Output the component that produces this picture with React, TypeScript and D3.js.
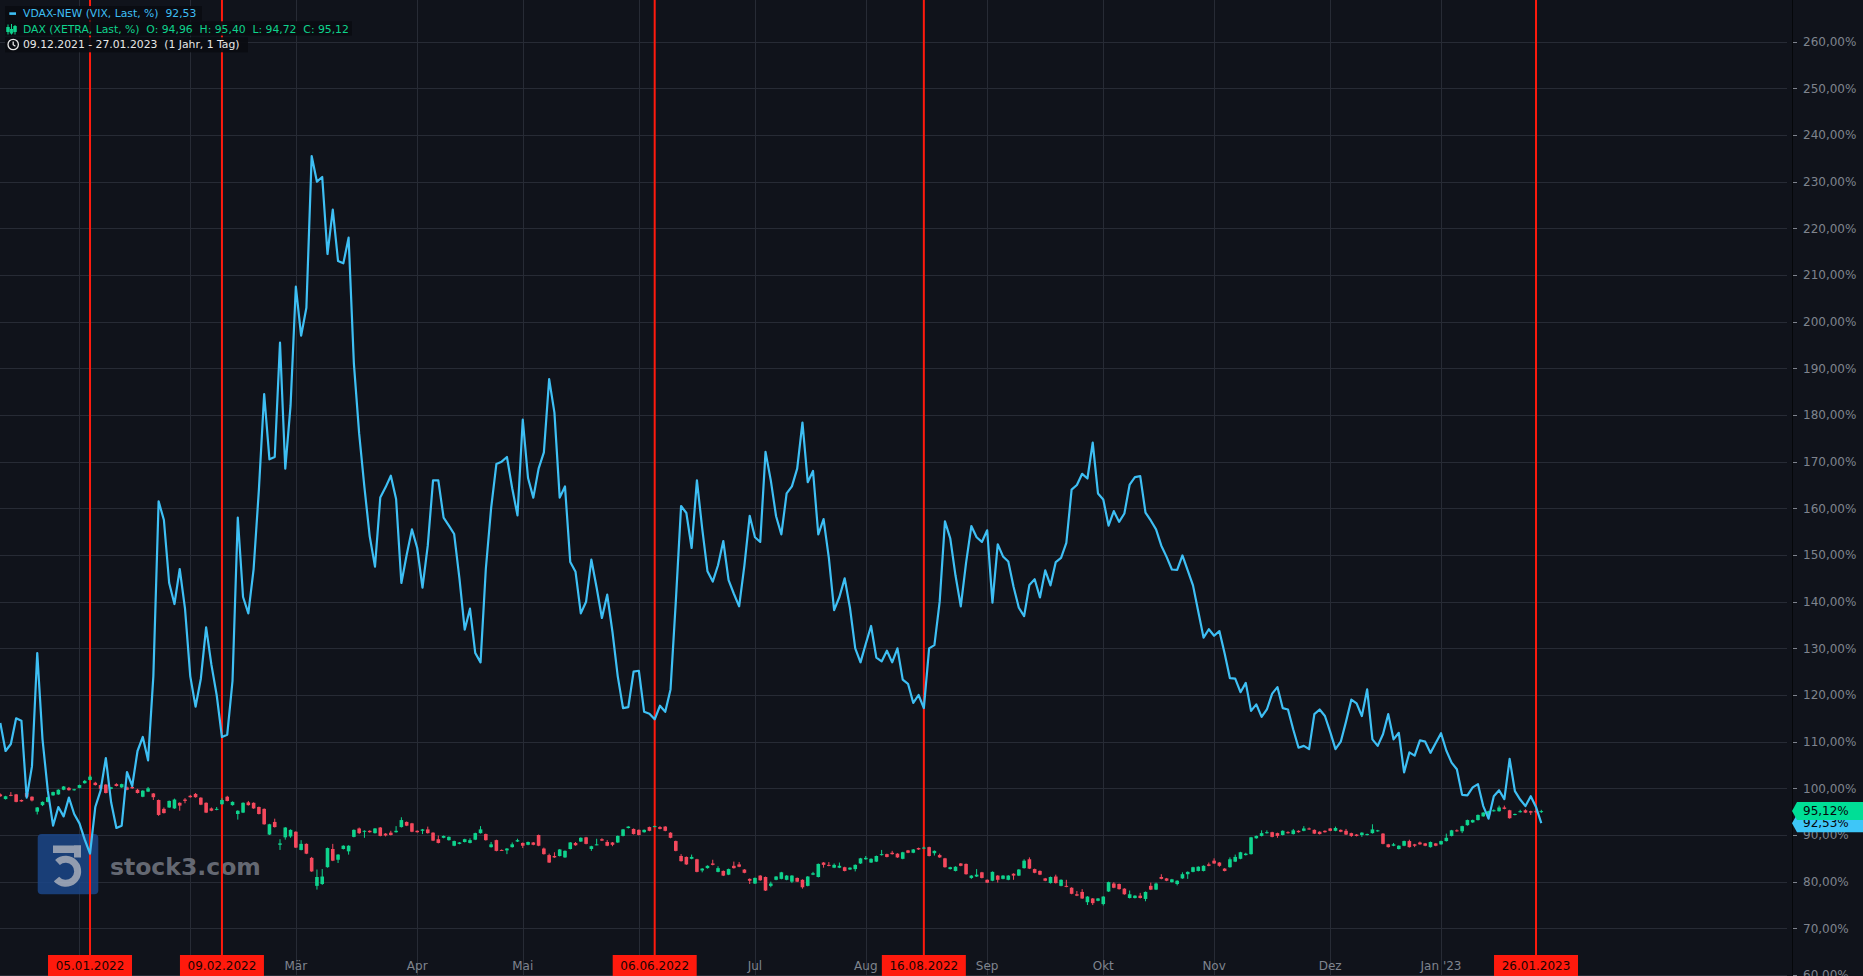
import React from 'react';
import * as d3 from 'd3';

const W = 1863;
const H = 976;
const BG = '#10131b';
const GRID = '#272b35';
const AXIS_TXT = '#7f848e';
const BLUE = '#3ebff4';
const GREEN = '#0fd38d';
const RED = '#f5495d';
const MARK = '#ff1a0d';
const FONT = 'DejaVu Sans, Verdana, sans-serif';

// VDAX-NEW normalised (%), one value per trading day 09.12.2021 .. 27.01.2023
const vdax: number[] = [
  114, 108, 109.5, 115, 114.5, 98, 104.7, 129, 110.5, 99.5,
  92, 96, 94, 98, 94.5, 92.5, 89, 86, 96, 99.5,
  106.5, 97, 91.5, 92, 103.5, 100.5, 108, 111, 106, 124,
  161.5, 157.5, 144, 139.5, 147, 138.5, 124, 117.5, 123.5, 134.5,
  126.5, 120, 111, 111.5, 123, 158, 141, 137.5, 147, 164,
  184.5, 170.5, 171, 195.5, 168.5, 182, 207.5, 197, 203, 235.5,
  230, 231, 214.5, 224, 213, 212.5, 218, 191, 176, 164.5,
  154, 147.5, 162.3, 164.5, 167, 162, 144, 150, 155.5, 151.5,
  143, 152, 166, 166, 158, 156.3, 154.5, 145, 134, 138.5,
  129, 127, 147, 160, 169.5, 170, 171, 164.3, 158.5, 179,
  166.5, 162.3, 168.5, 172, 187.7, 180.5, 162.3, 164.7, 148.5, 146.4,
  137.5, 140, 149, 143, 136.5, 141.5, 133.5, 124, 117.2, 117.4,
  125, 125.2, 116.4, 116, 114.8, 117.7, 116.4, 121.2, 140, 160.5,
  159, 151.5, 166, 155.7, 146.5, 144.3, 147.8, 153, 144.6, 141.7,
  139, 147.8, 158.4, 153.8, 152.8, 172.1, 166, 158.3, 154.4, 163.2,
  164.7, 168.5, 178.4, 165.6, 168, 154.4, 157.7, 149.4, 138.2, 141,
  145, 138.7, 130, 127, 131, 134.8, 128, 127.2, 129.5, 127,
  130, 123.3, 122.4, 118.3, 120, 117.2, 130, 130.7, 140, 157.2,
  153.6, 145.6, 139, 148.3, 156.2, 153.8, 152.8, 155.3, 139.8, 152.3,
  149.7, 148.6, 143.2, 138.7, 136.9, 143.6, 144.8, 140.9, 146.7, 143.5,
  148.5, 149.4, 152.6, 164, 165, 167.4, 166.4, 174.1, 163.2, 161.9,
  156.3, 159.4, 157.1, 158.9, 165.1, 166.7, 166.9, 159.1, 157.4, 155.5,
  152, 149.6, 146.9, 146.8, 149.9, 146.7, 143.5, 137.9, 132.3, 134.1,
  132.7, 133.7, 128.9, 123.6, 123.5, 120.6, 122.6, 116.6, 118, 115.3,
  116.9, 120.3, 121.7, 117.2, 116.9, 112.6, 108.7, 109.1, 108.4, 115.9,
  116.9, 115.5, 112.1, 108.4, 110, 114.3, 119, 118.2, 115.5, 121.2,
  110.5, 109.1, 111.6, 115.9, 110.5, 111.9, 103.4, 107.7, 107, 110.3,
  110, 107.6, 109.7, 111.8, 108.1, 105.5, 104.1, 98.6, 98.5, 100.2,
  100.9, 96.2, 93.5, 98.3, 99.6, 97.7, 106.3, 99.4, 97.6, 96.2,
  98.3, 96, 92.53,
];

// DAX normalised (%), [open, high, low, close] per trading day
const daxOHLC: number[][] = [
  [98.7,98.9,98.2,98.3],[97.7,98.4,97.6,98.3],[98.6,99.2,98.3,98.5],[98.7,98.8,97.0,97.1],[97.5,97.6,97.1,97.2],
  [99.0,99.1,98.1,98.2],[98.2,98.3,97.2,97.4],[95.0,96.0,94.4,95.9],[96.4,97.2,96.2,97.1],[97.1,98.2,97.0,98.1],
  [98.5,99.3,98.4,99.2],[98.7,99.8,98.6,99.7],[99.7,100.5,99.6,100.4],[100.1,100.3,99.5,99.6],[99.6,99.9,99.5,99.8],
  [100.1,100.8,100.0,100.7],[101.1,101.8,101.0,101.6],[101.8,102.9,101.7,102.5],[101.2,101.4,100.6,100.7],[100.7,100.8,99.8,99.9],
  [100.8,100.9,98.9,99.0],[99.9,100.3,99.8,100.2],[100.9,101.1,100.4,100.5],[100.2,101.0,100.1,100.9],[100.2,100.4,99.6,99.7],
  [100.3,100.6,99.9,100.0],[99.7,99.9,98.9,99.0],[98.2,99.6,98.1,99.5],[99.3,100.3,99.2,100.0],[98.9,99.0,97.5,98.1],
  [97.5,97.6,94.1,94.3],[95.6,95.9,94.6,94.7],[95.9,97.4,95.8,97.3],[95.7,97.8,95.6,97.6],[96.9,97.0,95.2,96.3],
  [97.6,97.9,96.8,97.3],[98.4,98.6,98.0,98.1],[98.8,99.0,98.0,98.1],[98.0,98.1,96.4,96.5],[96.9,97.0,94.7,94.8],
  [95.7,95.9,95.1,95.2],[95.5,96.0,95.3,95.6],[96.6,97.9,96.5,97.5],[98.2,98.4,97.2,97.3],[96.4,97.2,96.3,97.1],
  [94.5,95.3,93.3,95.2],[94.8,97.0,94.7,96.9],[97.0,97.3,96.3,96.4],[96.9,97.0,95.6,95.7],[96.0,96.1,94.4,94.5],
  [95.6,95.7,92.2,92.3],[90.1,92.4,90.0,92.3],[92.8,93.5,91.6,91.7],[87.9,89.1,86.8,88.2],[89.5,91.7,89.0,91.6],
  [89.7,91.2,89.4,91.1],[90.7,90.8,87.2,87.3],[86.8,88.9,86.7,88.1],[88.1,88.2,85.9,86.0],[85.1,85.3,82.1,82.2],
  [79.1,82.6,78.3,81.0],[79.5,82.7,79.3,81.1],[83.1,87.3,83.0,87.2],[87.0,88.1,84.4,84.5],[84.7,85.9,84.0,85.8],
  [87.0,87.8,86.9,87.7],[86.5,87.8,85.8,87.7],[89.6,91.2,89.5,91.1],[91.4,91.6,90.2,90.4],[90.7,91.0,89.4,90.9],
  [90.9,91.0,90.5,90.6],[90.4,91.5,90.3,91.4],[91.6,91.7,89.7,89.8],[90.3,90.4,89.7,89.9],[90.5,90.9,89.9,90.0],
  [90.6,91.9,90.5,90.9],[91.7,93.8,91.6,93.2],[92.8,92.9,91.9,92.0],[92.5,92.6,90.6,90.7],[90.9,91.0,90.5,90.6],
  [90.9,91.3,90.2,91.2],[91.2,91.8,90.3,90.4],[90.5,90.6,88.7,88.8],[89.1,89.9,88.2,88.3],[89.4,89.9,89.3,89.8],
  [88.9,89.7,88.8,89.6],[87.7,88.8,87.6,88.7],[88.1,88.5,88.0,88.4],[88.5,89.2,88.4,89.1],[88.3,89.3,88.2,88.9],
  [89.0,90.5,88.9,90.4],[90.4,91.9,90.3,91.2],[90.2,90.3,88.8,88.9],[87.4,88.5,87.3,88.0],[88.9,89.0,86.5,86.6],
  [86.8,86.9,86.6,86.7],[86.7,87.2,85.9,87.1],[87.4,88.4,87.3,88.0],[88.6,89.2,88.5,88.9],[88.3,88.4,87.2,87.7],
  [87.9,88.6,87.8,88.5],[88.4,88.5,87.8,87.9],[90.0,90.1,87.6,87.7],[87.1,87.3,85.8,85.9],[85.7,86.0,84.0,84.1],
  [85.5,86.3,85.1,85.2],[85.5,87.0,85.4,86.9],[85.2,86.7,85.1,86.6],[87.0,88.5,86.9,88.4],[88.3,88.5,87.7,87.8],
  [88.6,89.5,88.5,89.4],[89.5,89.6,88.0,88.1],[87.0,87.7,86.6,87.6],[87.9,89.2,87.8,88.0],[89.1,89.3,88.7,88.8],
  [88.5,88.9,87.6,87.7],[88.4,88.5,87.6,87.9],[88.4,89.9,88.3,89.8],[89.8,91.3,89.7,91.2],[91.5,91.9,91.4,91.8],
  [91.3,91.4,90.1,90.2],[91.1,91.2,89.9,90.0],[90.6,91.2,90.5,91.1],[91.7,91.8,90.8,90.9],[91.8,92.0,91.7,91.9],
  [91.7,91.9,91.2,91.3],[91.8,91.9,90.8,90.9],[90.5,90.6,89.3,89.4],[88.7,88.8,86.5,86.6],[85.5,85.9,84.3,84.4],
  [85.3,85.4,83.6,83.7],[84.9,85.8,84.8,85.3],[84.8,84.9,82.0,82.1],[82.4,82.9,82.0,82.8],[82.9,83.5,82.8,83.4],
  [83.9,84.7,83.5,83.6],[82.1,83.3,82.0,82.9],[82.3,82.4,81.2,81.3],[81.5,82.8,81.4,82.7],[83.4,84.3,82.8,82.9],
  [83.7,84.2,83.1,83.2],[82.6,82.7,81.8,81.9],[80.6,80.7,79.5,80.2],[79.6,80.9,79.5,80.8],[81.3,81.4,80.2,80.3],
  [81.0,81.1,78.0,78.1],[79.1,80.0,78.8,79.6],[80.4,81.2,80.3,81.1],[80.6,82.1,80.5,82.0],[80.4,81.4,80.3,81.3],
  [80.0,81.4,79.7,81.3],[80.8,80.9,79.9,80.0],[80.4,80.5,78.5,78.8],[79.1,81.2,79.0,81.1],[81.5,82.1,81.4,81.8],
  [81.0,83.9,80.9,83.8],[84.1,84.2,83.0,83.6],[83.6,84.2,83.3,83.4],[83.0,83.9,82.9,83.6],[83.0,84.1,82.9,83.4],
  [83.1,83.2,82.2,82.3],[82.6,83.1,82.5,83.0],[82.7,83.7,82.2,83.6],[83.9,85.1,83.8,85.0],[84.8,85.5,84.7,85.1],
  [84.1,85.0,84.0,84.9],[84.3,85.6,84.2,85.5],[85.7,86.8,85.6,85.9],[85.9,86.0,85.2,85.3],[86.2,86.6,85.8,85.9],
  [86.0,86.1,85.1,85.2],[84.9,86.4,84.8,86.3],[86.7,86.8,86.1,86.2],[86.2,87.0,86.1,86.9],[87.2,87.3,86.8,86.9],
  [87.2,87.5,87.1,87.3],[87.4,87.5,85.4,85.5],[86.1,86.7,85.6,86.6],[85.7,86.0,85.1,85.2],[85.0,85.1,83.0,83.1],
  [82.7,83.2,82.6,83.1],[82.3,83.3,82.2,83.2],[83.9,84.0,83.3,83.4],[83.8,83.9,81.5,81.6],[80.8,81.4,80.6,81.3],
  [81.1,82.7,81.0,81.5],[82.0,82.1,80.7,80.8],[80.4,80.5,79.7,79.8],[80.2,82.2,80.1,82.1],[81.3,81.4,79.8,80.4],
  [80.6,81.4,80.5,81.3],[80.4,81.4,80.3,81.3],[81.7,81.8,80.4,81.3],[81.3,82.7,81.2,82.6],[82.9,84.8,82.8,84.5],
  [84.8,85.2,82.7,82.8],[82.7,82.8,81.8,81.9],[82.3,82.4,81.4,81.5],[80.7,80.8,80.1,80.2],[79.7,81.1,79.6,81.0],
  [81.1,81.5,79.6,79.7],[79.1,80.5,79.0,80.4],[79.1,80.4,78.8,78.9],[78.7,78.8,77.3,77.4],[77.3,78.0,76.9,77.0],
  [77.8,78.4,76.3,76.4],[75.6,76.9,75.0,76.8],[76.4,76.5,75.0,75.4],[75.9,76.5,75.8,76.4],[75.2,76.9,74.9,76.8],
  [77.9,80.0,77.8,79.9],[79.6,79.9,78.6,78.7],[79.5,79.6,78.3,78.4],[78.5,78.6,77.2,77.3],[76.5,78.1,76.4,77.3],
  [76.5,77.1,76.4,77.0],[77.0,77.6,76.4,76.5],[76.3,77.9,75.8,77.8],[79.1,79.8,78.2,78.3],[78.3,79.8,78.2,79.6],
  [81.0,81.6,80.5,80.6],[80.7,80.8,80.1,80.2],[79.9,80.6,79.8,80.5],[79.5,80.3,79.2,80.2],[80.7,82.0,80.6,81.6],
  [81.6,82.2,80.6,82.1],[82.1,83.2,82.0,83.1],[82.3,83.3,82.2,83.2],[82.3,83.5,82.2,83.4],[83.7,84.1,83.3,83.4],
  [84.5,85.0,83.8,83.9],[84.1,84.2,83.2,83.4],[82.8,82.9,82.2,82.3],[83.1,85.2,83.0,84.8],[84.3,85.8,84.2,85.3],
  [84.9,86.4,84.8,86.3],[85.7,86.2,85.6,86.0],[85.9,89.6,85.8,89.5],[89.3,89.9,89.2,89.8],[89.8,91.0,89.7,90.4],
  [90.4,91.0,90.3,90.6],[90.6,90.7,89.5,89.6],[90.4,90.5,89.4,89.8],[90.0,91.0,89.9,90.9],[90.6,90.8,90.3,90.4],
  [90.2,91.3,90.1,91.0],[90.9,91.0,90.5,90.6],[90.9,91.9,90.8,91.4],[91.4,91.6,91.1,91.2],[91.1,91.2,90.2,90.3],
  [90.7,90.8,90.1,90.2],[90.9,91.0,90.5,90.6],[91.4,91.5,90.8,90.9],[90.9,91.8,90.8,91.5],[91.1,91.2,90.6,90.7],
  [90.9,91.3,90.0,90.1],[90.4,90.5,89.6,89.8],[90.1,90.2,89.7,89.8],[90.0,90.6,89.6,90.5],[90.0,90.3,89.9,90.2],
  [90.4,92.3,90.3,91.2],[90.8,91.1,90.7,91.0],[90.3,90.4,88.0,88.1],[88.0,88.1,87.3,87.4],[87.7,88.3,87.6,88.0],
  [87.0,87.8,86.9,87.7],[87.7,88.8,87.6,88.7],[88.7,89.0,87.3,87.4],[88.0,88.1,87.4,87.7],[88.4,88.6,87.9,88.0],
  [88.2,88.3,87.6,87.7],[87.4,88.6,87.3,88.5],[88.2,88.3,87.6,87.7],[88.0,88.8,87.9,88.7],[88.7,90.3,88.6,89.4],
  [89.8,91.1,89.7,91.0],[91.0,91.2,90.7,90.8],[90.8,92.0,90.4,91.9],[92.1,93.3,92.0,93.2],[92.7,93.3,92.6,93.2],
  [93.2,94.4,93.1,94.3],[94.0,94.9,93.9,94.8],[94.3,95.2,94.2,95.1],[95.1,95.5,95.0,95.3],[95.1,96.3,95.0,95.9],
  [95.9,96.3,95.5,95.6],[95.3,95.4,93.5,93.6],[94.3,94.6,94.2,94.5],[94.9,95.4,94.8,95.1],[95.3,95.5,94.7,94.8],
  [95.1,95.2,94.3,94.8],[95.1,95.4,94.7,94.9],[94.96,95.40,94.72,95.12],
];

const holidays = ['2021-12-24', '2021-12-31', '2022-04-15', '2022-12-26'];
const markerDates = ['2022-01-05', '2022-02-09', '2022-06-06', '2022-08-16', '2023-01-26'];
const markerLabels = ['05.01.2022', '09.02.2022', '06.06.2022', '16.08.2022', '26.01.2023'];
const monthNames = ['Jan', 'Feb', 'Mär', 'Apr', 'Mai', 'Jun', 'Jul', 'Aug', 'Sep', 'Okt', 'Nov', 'Dez'];
const yTicks = [60, 70, 80, 90, 100, 110, 120, 130, 140, 150, 160, 170, 180, 190, 200, 210, 220, 230, 240, 250, 260];

const legendVdax = 'VDAX-NEW (VIX, Last, %)  92,53';
const legendDax = 'DAX (XETRA, Last, %)  O: 94,96  H: 95,40  L: 94,72  C: 95,12';
const legendRange = '09.12.2021 - 27.01.2023  (1 Jahr, 1 Tag)';

const fmtPct = (v: number) => d3.format('.2f')(v).replace('.', ',') + '%';
const isoFmt = d3.utcFormat('%Y-%m-%d');

export default function App() {
  React.useEffect(() => {
    document.body.style.margin = '0';
    document.body.style.background = BG;
    document.body.style.overflow = 'hidden';
  }, []);

  const n = vdax.length;
  const days = d3.utcDay
    .range(new Date(Date.UTC(2021, 11, 9)), new Date(Date.UTC(2023, 0, 28)))
    .filter((d) => {
      const wd = d.getUTCDay();
      return wd !== 0 && wd !== 6 && !holidays.includes(isoFmt(d));
    });
  const dayIdx = new Map(days.map((d, i) => [isoFmt(d), i]));

  const x = d3.scaleLinear().domain([0, n - 1]).range([0.3, 1541.3]);
  const y = d3.scaleLinear().domain([60, 260]).range([975, 41.7]);

  const monthTicks: { i: number; label: string }[] = [];
  for (let i = 1; i < days.length; i++) {
    const m = days[i].getUTCMonth();
    if (m !== days[i - 1].getUTCMonth()) {
      const label = m === 0 ? `Jan '${String(days[i].getUTCFullYear()).slice(2)}` : monthNames[m];
      monthTicks.push({ i, label });
    }
  }
  const markers = markerDates.map((d, k) => ({ i: dayIdx.get(d) ?? 0, label: markerLabels[k] }));

  const line = d3.line<number>().x((_, i) => x(i)).y((v) => y(v));
  const axisX = 1792;
  const lastDax = daxOHLC[daxOHLC.length - 1][3];
  const lastVdax = vdax[n - 1];

  const tag = (v: number, color: string) => {
    const cy = y(v);
    return (
      <g>
        <path d={`M${axisX},${cy} L${axisX + 5},${cy - 9} L${W},${cy - 9} L${W},${cy + 9} L${axisX + 5},${cy + 9} Z`} fill={color} />
        <text x={1803} y={cy + 4.3} fontSize={12} fill="#05070a" fontFamily={FONT}>{fmtPct(v)}</text>
      </g>
    );
  };

  return (
    <svg width={W} height={H} style={{ position: 'absolute', left: 0, top: 0, display: 'block' }} fontFamily={FONT}>
      <rect x={0} y={0} width={W} height={H} fill={BG} />
      {/* horizontal grid */}
      {yTicks.map((t) => (
        <line key={'h' + t} x1={0} x2={1787} y1={Math.round(y(t)) + 0.5} y2={Math.round(y(t)) + 0.5} stroke={GRID} strokeWidth={1} />
      ))}
      {/* vertical month grid */}
      {monthTicks.map((m) => (
        <line key={'v' + m.i} x1={Math.round(x(m.i)) + 0.5} x2={Math.round(x(m.i)) + 0.5} y1={0} y2={H} stroke={GRID} strokeWidth={1} />
      ))}
      {/* watermark */}
      <g opacity={0.85}>
        <rect x={37.7} y={834} width={60.6} height={60.3} rx={4} fill="#1b4688" />
        <rect x={53} y={845.5} width={28} height={7.5} fill="#a9b5c9" />
        <rect x={74} y={845.5} width={7} height={12} fill="#a9b5c9" />
        <path d="M57.5,862.5 A12,12 0 1 1 56.5,879" fill="none" stroke="#a9b5c9" strokeWidth={7} />
      </g>
      <text x={110} y={875} fontSize={23.5} fontWeight="bold" fill="#70757f" fillOpacity={0.9}>stock3.com</text>
      {/* marker lines */}
      {markers.map((m) => (
        <line key={'m' + m.i} x1={x(m.i)} x2={x(m.i)} y1={0} y2={956} stroke={MARK} strokeWidth={2} />
      ))}
      {/* DAX candles */}
      {daxOHLC.map((c, i) => {
        const [o, h, l, cl] = c;
        const col = cl >= o ? GREEN : RED;
        const top = y(Math.max(o, cl));
        const bot = y(Math.min(o, cl));
        return (
          <g key={'c' + i}>
            <line x1={x(i)} x2={x(i)} y1={y(h)} y2={y(l)} stroke={col} strokeWidth={1} />
            <rect x={x(i) - 1.8} y={top} width={3.6} height={Math.max(1, bot - top)} fill={col} />
          </g>
        );
      })}
      {/* VDAX line */}
      <path d={line(vdax) || ''} fill="none" stroke={BLUE} strokeWidth={2.2} strokeLinejoin="round" />
      {/* right axis */}
      <line x1={axisX + 0.5} x2={axisX + 0.5} y1={0} y2={H} stroke="#05070a" strokeWidth={1} />
      {yTicks.map((t) => (
        <g key={'t' + t}>
          <line x1={1793} x2={1797} y1={Math.round(y(t)) + 0.5} y2={Math.round(y(t)) + 0.5} stroke={AXIS_TXT} strokeWidth={1} />
          <text x={1803} y={y(t) + 4.3} fontSize={12} fill={AXIS_TXT}>{fmtPct(t)}</text>
        </g>
      ))}
      {tag(lastVdax, '#3ec6f8')}
      {tag(lastDax, '#00de96')}
      {/* month labels */}
      {monthTicks.map((m) => {
        const mx = x(m.i);
        const hidden = markers.some((k) => Math.abs(x(k.i) - mx) < 53);
        if (hidden) return null;
        return (
          <text key={'ml' + m.i} x={mx} y={970} fontSize={12} fill={AXIS_TXT} textAnchor="middle">{m.label}</text>
        );
      })}
      {/* marker labels */}
      {markers.map((m) => (
        <g key={'mlab' + m.i}>
          <rect x={x(m.i) - 42} y={955} width={84} height={22} fill={MARK} />
          <text x={x(m.i)} y={970} fontSize={12} fill="#1a0302" textAnchor="middle">{m.label}</text>
        </g>
      ))}
      {/* legend */}
      <g>
        <rect x={5} y={6} width={197} height={14.7} fill="#0a0c11" fillOpacity={0.92} />
        <rect x={5} y={21.3} width={347} height={14.3} fill="#0a0c11" fillOpacity={0.92} />
        <rect x={5} y={37.3} width={243} height={15} fill="#0a0c11" fillOpacity={0.92} />
        <rect x={9.3} y={12.3} width={6.7} height={2.6} fill={BLUE} />
        <g stroke={GREEN} strokeWidth={1} fill="none">
          <line x1={8} x2={8} y1={24.5} y2={34.5} />
          <rect x={6.8} y={27.5} width={2.4} height={4} fill={GREEN} />
          <line x1={11.5} x2={11.5} y1={24} y2={34.5} />
          <rect x={10.3} y={29.5} width={2.4} height={3.5} fill={GREEN} />
          <line x1={15} x2={15} y1={25} y2={34.5} />
          <rect x={13.8} y={26.5} width={2.4} height={5} fill={GREEN} />
        </g>
        <g stroke="#e8e8e8" strokeWidth={1.3} fill="none">
          <circle cx={13.2} cy={44.5} r={5.2} />
          <path d="M13.2,41.5 V44.7 L15.4,46.2" />
        </g>
        <text x={23} y={17.3} fontSize={10.8} fill={BLUE} xmlSpace="preserve" style={{ whiteSpace: 'pre' }}>{legendVdax}</text>
        <text x={23} y={32.7} fontSize={10.8} fill={GREEN} xmlSpace="preserve" style={{ whiteSpace: 'pre' }}>{legendDax}</text>
        <text x={23} y={48.4} fontSize={10.8} fill="#e8e8e8" xmlSpace="preserve" style={{ whiteSpace: 'pre' }}>{legendRange}</text>
      </g>
    </svg>
  );
}
